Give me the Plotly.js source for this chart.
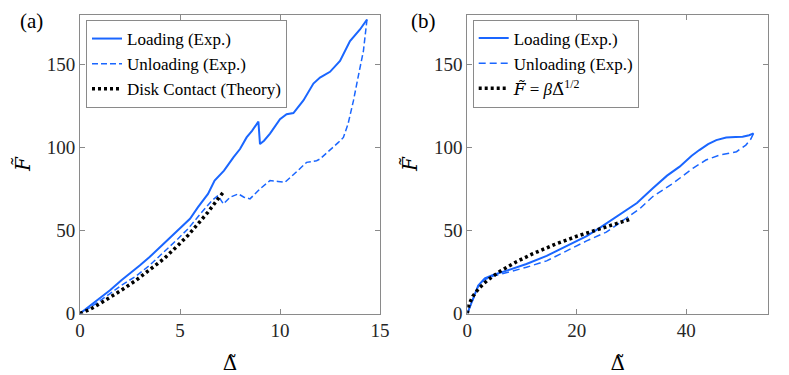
<!DOCTYPE html>
<html>
<head>
<meta charset="utf-8">
<script src="https://cdn.plot.ly/plotly-3.0.1.min.js"></script>
<style>html,body{margin:0;padding:0;background:#fff;}#chart{width:789px;height:375px;}</style>
</head>
<body>
<div id="chart"></div>
<script>
// ---- Panel (a) data ----
const aLoadX = [0, 0.5, 1, 1.5, 2.07, 2.5, 3, 3.48, 4, 4.5, 4.9, 5.5, 5.9, 6.4, 6.73, 7.2, 7.67, 8.0, 8.33, 8.6, 8.92, 9.0, 9.2, 9.5, 10, 10.33, 10.67, 11.17, 11.67, 12, 12.5, 13, 13.5, 14, 14.35];
const aLoadF = [0, 4.5, 9, 14, 20, 24, 29, 34, 40, 46, 50, 57, 64, 72, 80, 86, 94, 99, 106, 110, 115.5, 102, 104, 108.3, 117, 120, 120.7, 128.3, 138.4, 142, 145.5, 152, 164, 171, 177];
const aUnloadX = [14.35, 14.17, 13.9, 13.67, 13.4, 13.17, 12.92, 12.5, 12, 11.83, 11.33, 10.8, 10.25, 9.9, 9.5, 9.0, 8.5, 8.2, 7.92, 7.5, 7.17, 6.9, 6.6, 6.3, 5.9, 5.4, 4.9, 4.2, 3.48, 2.8, 2.07, 1.5, 1, 0.5, 0];
const aUnloadF = [177, 158, 142, 128, 114, 106, 103, 98.5, 93, 92, 91, 85, 79, 79.5, 80, 75, 69, 70, 72, 70, 66, 71, 68, 64, 58, 51, 45, 37, 29, 22.5, 17, 12, 7.5, 3.5, 0];
const aTheoryX = [0, 0.5, 1, 1.5, 2.07, 2.8, 3.48, 4.2, 4.9, 5.4, 5.9, 6.4, 6.9, 7.23];
const aTheoryF = [0, 2.5, 6, 9.5, 14, 20, 26, 33, 41, 47, 54, 61, 69, 74];

// ---- Panel (b) data ----
const bLoadX = [0, 0.5, 1.1, 2, 3.2, 4.7, 7.2, 10.8, 14.5, 18.1, 21.8, 24.2, 27, 29.1, 31, 33.9, 36.5, 38.8, 41, 42.4, 44, 45.5, 47.3, 49, 50.3, 51.5, 52.3];
const bLoadF = [0, 4, 8.9, 16.8, 21.2, 23.2, 25.8, 29.8, 34.7, 40.7, 46.6, 51.5, 57.5, 62.5, 66.5, 75.4, 83, 88.4, 95, 98.4, 102, 104.4, 106, 106.2, 106.4, 107.3, 108.4];
const bUnloadX = [52.3, 51.8, 50.9, 49.2, 46.1, 43.6, 41.2, 37.6, 33.9, 31.5, 29.1, 25.4, 21.8, 18.1, 14.5, 10.8, 7.2, 4.7, 3.2, 2, 1.1, 0.5, 0];
const bUnloadF = [108.4, 105, 101.4, 97.4, 95.4, 92.4, 87.4, 78.4, 70.4, 63, 57.5, 49, 43.7, 37.7, 31.7, 27.8, 24.5, 22.5, 20.5, 16.5, 9, 4, 0];
const bTheoryX = [0, 0.3, 1, 2, 3, 4, 6, 9, 12, 16, 20, 25, 30];
const bTheoryF = [0, 5.5, 10.3, 14.7, 18, 20.8, 25.5, 31.2, 36, 41.6, 46.5, 52, 57];

// ---- Tick labels ----
const yTicks = [0, 50, 100, 150];
const aXTicks = [0, 5, 10, 15];
const bXTicks = [0, 20, 40];

const BLUE = '#1a66ff';
const FONT = 'Liberation Serif';
const MFONT = 'DejaVu Serif';
const AXC = '#8a8a8a';

const DT = '<span style="font-family:DejaVu Serif">Δ\u0303</span>';
const FT = '<span style="font-family:DejaVu Serif"><i>F\u0303</i></span>';

const traces = [
  {x: aLoadX, y: aLoadF, mode: 'lines', name: 'Loading (Exp.)', line: {color: BLUE, width: 2}, xaxis: 'x', yaxis: 'y', legend: 'legend'},
  {x: aUnloadX, y: aUnloadF, mode: 'lines', name: 'Unloading (Exp.)', line: {color: BLUE, width: 1.5, dash: '6px,3px'}, xaxis: 'x', yaxis: 'y', legend: 'legend'},
  {x: aTheoryX, y: aTheoryF, mode: 'lines', name: 'Disk Contact (Theory)', line: {color: '#000', width: 3.5, dash: '3px,3px'}, xaxis: 'x', yaxis: 'y', legend: 'legend'},
  {x: bLoadX, y: bLoadF, mode: 'lines', name: 'Loading (Exp.)', line: {color: BLUE, width: 2}, xaxis: 'x2', yaxis: 'y2', legend: 'legend2'},
  {x: bUnloadX, y: bUnloadF, mode: 'lines', name: 'Unloading (Exp.)', line: {color: BLUE, width: 1.5, dash: '7px,4px'}, xaxis: 'x2', yaxis: 'y2', legend: 'legend2'},
  {x: bTheoryX, y: bTheoryF, mode: 'lines', name: FT + ' = <i>β</i>' + DT + '<sup>1/2</sup>', line: {color: '#000', width: 3.5, dash: '3px,3px'}, xaxis: 'x2', yaxis: 'y2', legend: 'legend2'}
];

const axBase = {
  showline: true, linecolor: AXC, linewidth: 1, mirror: 'ticks',
  ticks: 'inside', ticklen: 5, tickcolor: AXC, tickwidth: 1,
  showgrid: false, zeroline: false,
  tickfont: {family: FONT, size: 19, color: '#262626'}
};
const ydom = [0.164, 0.9613];
const legBase = {
  font: {family: FONT, size: 17, color: '#000'},
  bgcolor: '#fff', bordercolor: AXC, borderwidth: 1,
  xanchor: 'left', yanchor: 'top', tracegroupgap: 0
};
const titleFont = {family: MFONT, size: 20, color: '#000'};

const layout = {
  width: 789, height: 375,
  margin: {l: 0, r: 0, t: 0, b: 0},
  paper_bgcolor: '#fff', plot_bgcolor: '#fff',
  font: {family: FONT},
  showlegend: true,
  xaxis: Object.assign({}, axBase, {domain: [80/789, 380/789], range: [0, 15], tickvals: aXTicks, anchor: 'y',
    title: {text: 'Δ\u0303', font: titleFont}}),
  yaxis: Object.assign({}, axBase, {domain: ydom, range: [0, 180], tickvals: yTicks, anchor: 'x',
    title: {text: '<i>F\u0303</i>', font: titleFont}}),
  xaxis2: Object.assign({}, axBase, {domain: [467.3/789, 768.3/789], range: [0, 55], tickvals: bXTicks, anchor: 'y2',
    title: {text: 'Δ\u0303', font: titleFont}}),
  yaxis2: Object.assign({}, axBase, {domain: ydom, range: [0, 180], tickvals: yTicks, anchor: 'x2',
    title: {text: '<i>F\u0303</i>', font: titleFont}}),
  legend: Object.assign({}, legBase, {x: 86/789, y: 1 - 20/375}),
  legend2: Object.assign({}, legBase, {x: 472.7/789, y: 1 - 19.5/375}),
  annotations: [
    {text: '(a)', xref: 'paper', yref: 'paper', x: 32/789, y: 1 - 21/375, xanchor: 'center', yanchor: 'middle', showarrow: false, font: {family: FONT, size: 21, color: '#000'}},
    {text: '(b)', xref: 'paper', yref: 'paper', x: 423/789, y: 1 - 21/375, xanchor: 'center', yanchor: 'middle', showarrow: false, font: {family: FONT, size: 21, color: '#000'}}
  ]
};

Plotly.newPlot('chart', traces, layout, {staticPlot: true, displayModeBar: false});
</script>
</body>
</html>
